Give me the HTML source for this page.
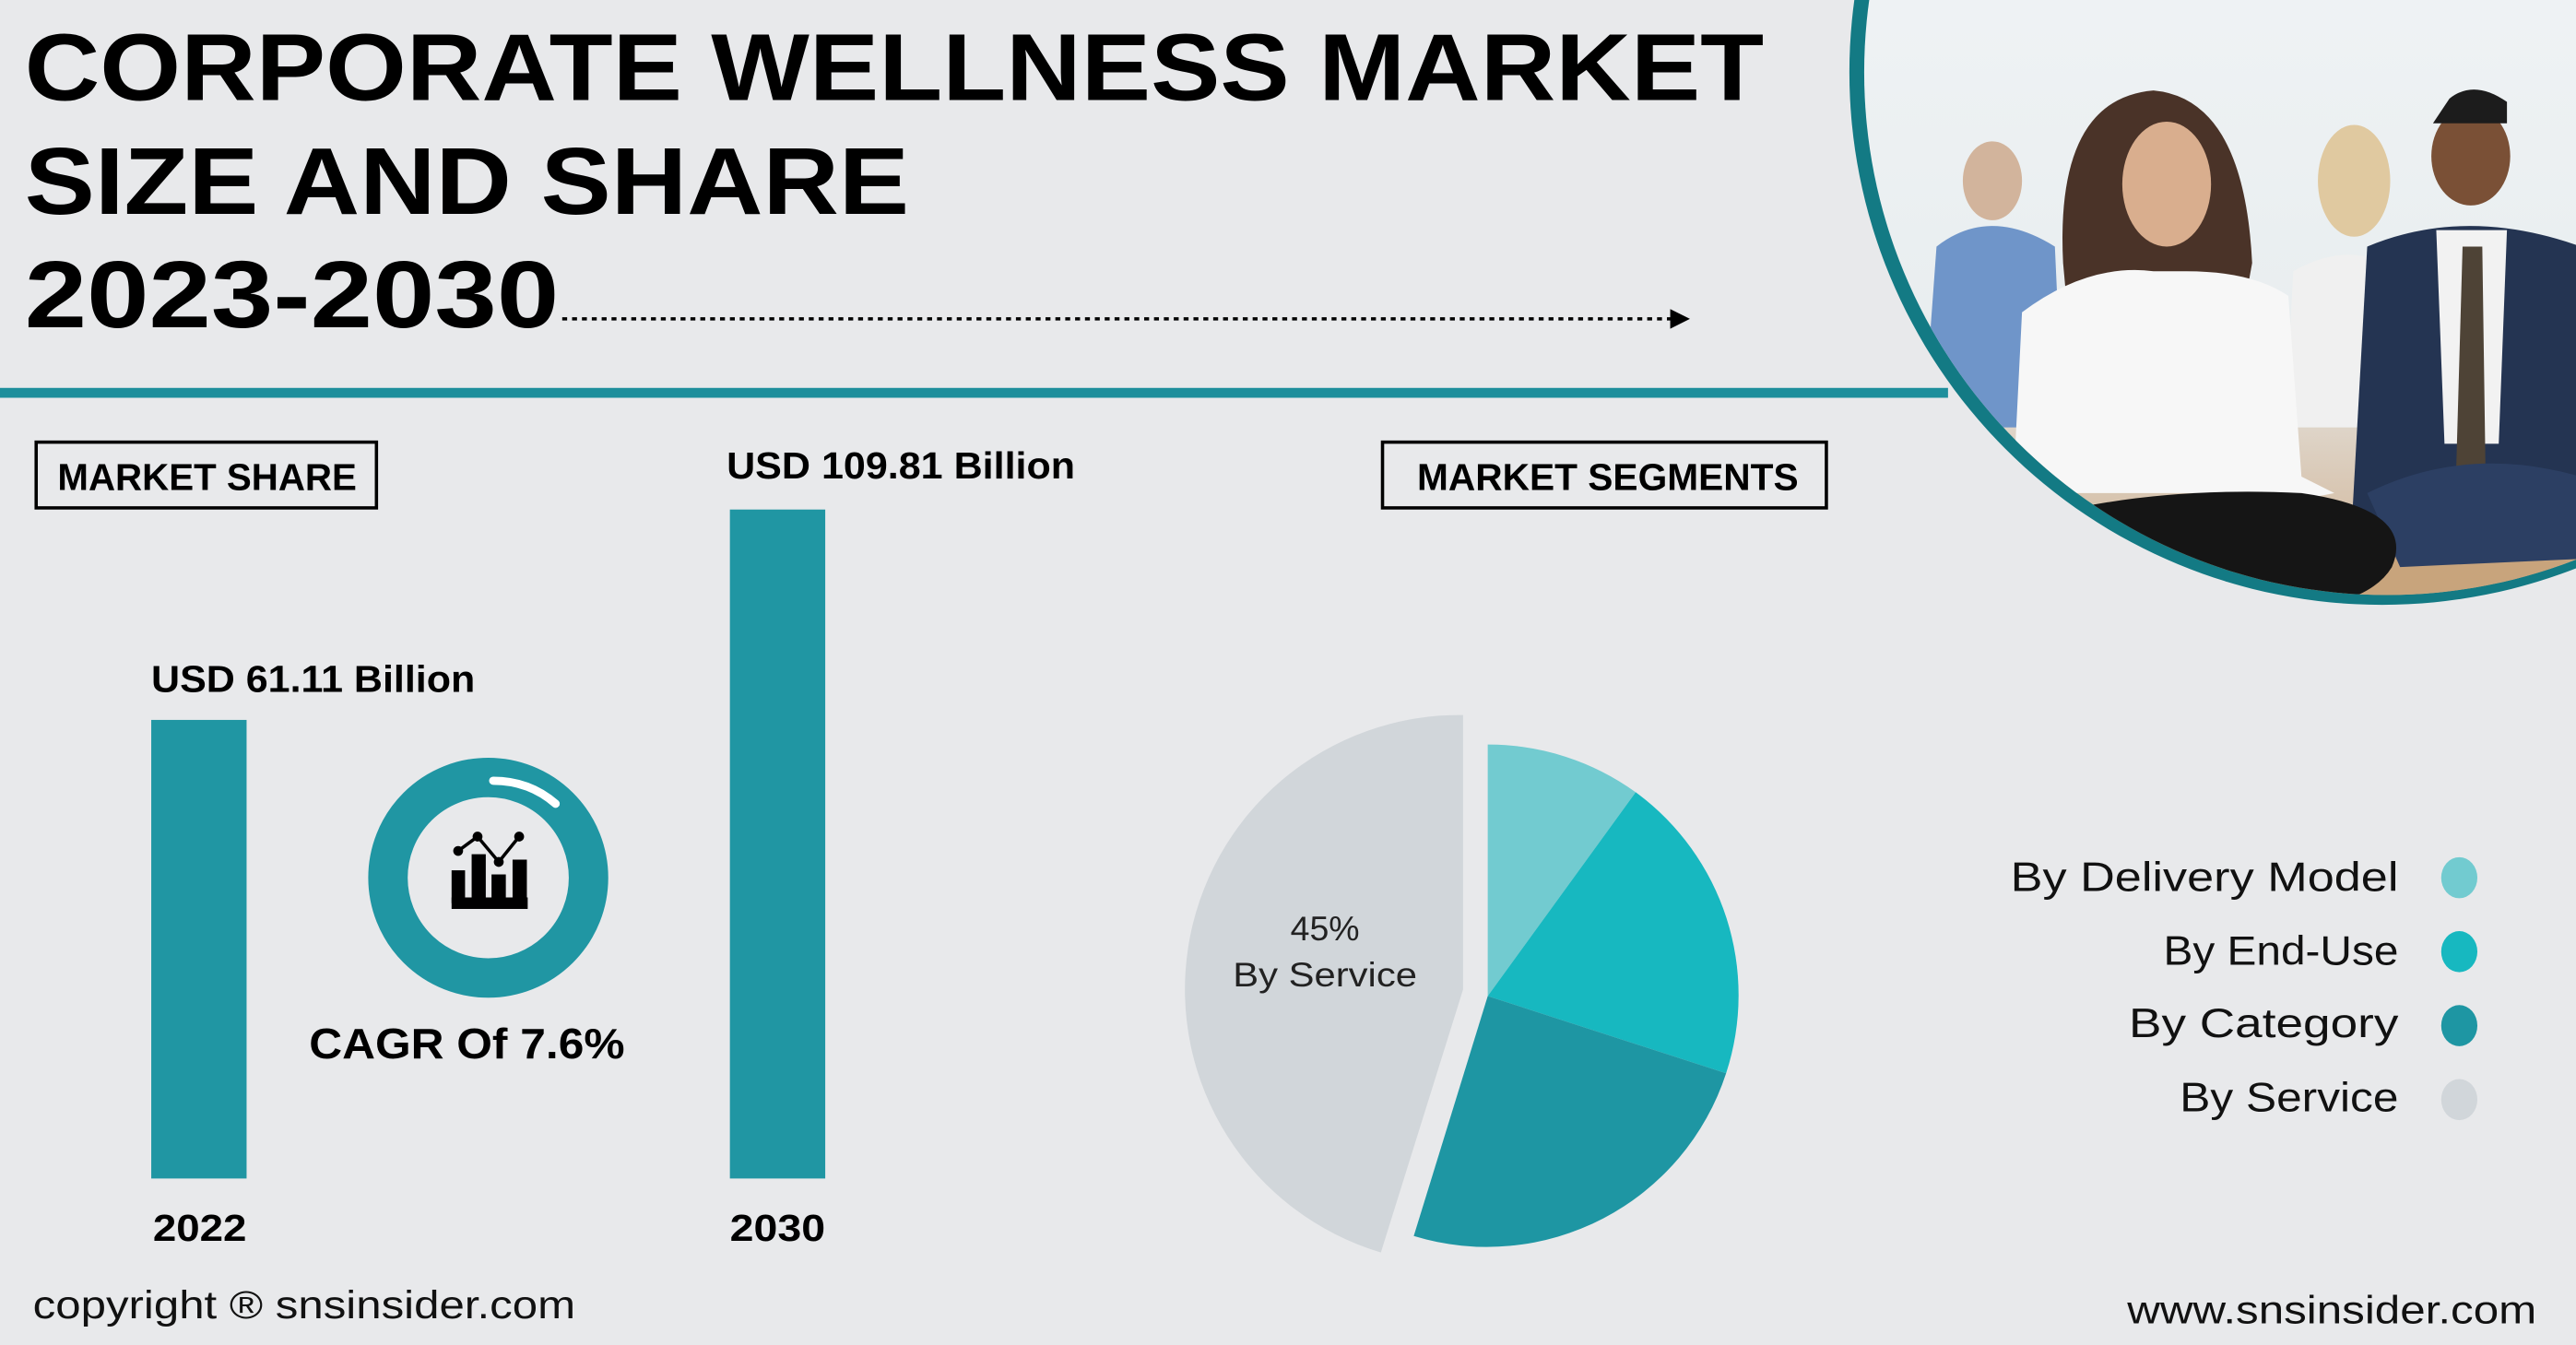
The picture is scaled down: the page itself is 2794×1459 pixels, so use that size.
<!DOCTYPE html>
<html><head><meta charset="utf-8"><style>
html,body{margin:0;padding:0;background:#e8e9eb;}
svg{display:block;}
</style></head><body>
<svg width="2794" height="1459" viewBox="0 0 1567 818.3" preserveAspectRatio="none" xmlns="http://www.w3.org/2000/svg" font-family="Liberation Sans, sans-serif">
<defs>
<clipPath id="cc"><circle cx="1452" cy="44" r="318"/></clipPath>
<linearGradient id="bg" x1="0" y1="0" x2="0" y2="1"><stop offset="0" stop-color="#f7f9fa"/><stop offset="0.7" stop-color="#e9eef0"/><stop offset="1" stop-color="#c9a27a"/></linearGradient>
</defs>
<rect width="1567" height="819" fill="#e8e9eb"/>
<!-- photo -->
<circle cx="1449" cy="44" r="324" fill="#137a84"/>
<g clip-path="url(#cc)">
<rect x="1100" y="-300" width="500" height="700" fill="url(#bg)"/>
<rect x="1140" y="330" width="440" height="60" fill="#c8a47c"/>
<ellipse cx="1212" cy="110" rx="18" ry="24" fill="#d2b49c"/>
<path d="M1178 150 Q1210 125 1250 150 L1255 260 L1170 260 Z" fill="#6f95c9"/>
<ellipse cx="1432" cy="110" rx="22" ry="34" fill="#e0c9a0"/>
<path d="M1395 165 Q1430 145 1460 165 L1465 260 L1390 260 Z" fill="#f0f0f0"/>
<ellipse cx="1503" cy="95" rx="24" ry="30" fill="#7a5036"/>
<path d="M1490 60 Q1505 48 1525 62 L1525 75 L1480 75 Z" fill="#1c1c1c"/>
<path d="M1440 150 Q1500 125 1570 150 L1570 330 L1430 330 Z" fill="#243452"/>
<path d="M1482 140 L1525 140 L1520 270 L1487 270 Z" fill="#f2f2f2"/>
<path d="M1498 150 L1510 150 L1512 290 L1500 295 L1494 290 Z" fill="#4e4336"/>
<path d="M1440 300 Q1500 270 1570 290 L1570 340 L1460 345 Z" fill="#2c3f63"/>
<path d="M1255 160 Q1250 60 1310 55 Q1365 60 1370 160 L1360 215 L1260 215 Z" fill="#4a3328"/>
<ellipse cx="1318" cy="112" rx="27" ry="38" fill="#d9ae8e"/>
<path d="M1230 190 Q1270 160 1310 165 L1330 165 Q1370 165 1392 180 L1400 290 L1420 300 L1395 305 L1380 300 L1255 300 L1225 290 Z" fill="#f7f7f7"/>
<path d="M1220 320 Q1300 295 1400 300 Q1470 310 1455 345 Q1440 370 1380 372 L1250 365 Z" fill="#151515"/>
</g>
<!-- title -->
<g font-weight="bold" fill="#000">
<text x="15" y="61" font-size="58" textLength="1058" lengthAdjust="spacingAndGlyphs">CORPORATE WELLNESS MARKET</text>
<text x="15" y="130" font-size="58" textLength="538" lengthAdjust="spacingAndGlyphs">SIZE AND SHARE</text>
<text x="15" y="199" font-size="58" textLength="325" lengthAdjust="spacingAndGlyphs">2023-2030</text>
</g>
<line x1="342" y1="194" x2="1018" y2="194" stroke="#000" stroke-width="2" stroke-dasharray="3,3"/>
<path d="M1016 188 L1028 194 L1016 200 Z" fill="#000"/>
<rect x="0" y="236" width="1185" height="6" fill="#1e8f9c"/>
<!-- boxes -->
<rect x="22" y="269" width="207" height="40" fill="none" stroke="#000" stroke-width="2"/>
<text x="126" y="298" font-size="23" font-weight="bold" text-anchor="middle" textLength="182" lengthAdjust="spacingAndGlyphs">MARKET SHARE</text>
<rect x="841" y="269" width="270" height="40" fill="none" stroke="#000" stroke-width="2"/>
<text x="978" y="298" font-size="23" font-weight="bold" text-anchor="middle" textLength="232" lengthAdjust="spacingAndGlyphs">MARKET SEGMENTS</text>
<!-- bars -->
<rect x="92" y="438" width="58" height="279" fill="#2096a3"/>
<rect x="444" y="310" width="58" height="407" fill="#2096a3"/>
<g font-weight="bold" font-size="23">
<text x="92" y="421" textLength="197" lengthAdjust="spacingAndGlyphs">USD 61.11 Billion</text>
<text x="442" y="291" textLength="212" lengthAdjust="spacingAndGlyphs">USD 109.81 Billion</text>
<text x="93" y="755" textLength="57" lengthAdjust="spacingAndGlyphs">2022</text>
<text x="444" y="755" textLength="58" lengthAdjust="spacingAndGlyphs">2030</text>
<text x="188" y="644" font-size="26" textLength="192" lengthAdjust="spacingAndGlyphs">CAGR Of 7.6%</text>
</g>
<!-- ring -->
<circle cx="297" cy="534" r="61" fill="none" stroke="#2096a3" stroke-width="24"/>
<path d="M300 475 Q322 475 338 489" fill="none" stroke="#fff" stroke-width="5" stroke-linecap="round"/>
<g fill="#000">
<rect x="274.7" y="546" width="46.3" height="7"/>
<rect x="274.7" y="529.5" width="8.2" height="20"/>
<rect x="286.9" y="519.7" width="8.6" height="30"/>
<rect x="299" y="532" width="8.7" height="18"/>
<rect x="311.8" y="523" width="8.7" height="27"/>
<polyline points="278.7,517.7 290.5,509 303.4,524.4 315.8,509" fill="none" stroke="#000" stroke-width="2"/>
<circle cx="278.7" cy="517.7" r="3"/><circle cx="290.5" cy="509" r="3"/><circle cx="303.4" cy="524.4" r="3"/><circle cx="315.8" cy="509" r="3"/>
</g>
<!-- pie -->
<path d="M905 606 L905 453 A153 153 0 0 1 995 482 Z" fill="#72cbd0"/>
<path d="M905 606 L995 482 A153 153 0 0 1 1050 653 Z" fill="#17b8c0"/>
<path d="M905 606 L1050 653 A153 153 0 0 1 860 752 Z" fill="#1e96a3"/>
<path d="M890 602 L840 762 A167 167 0 0 1 890 435 Z" fill="#d1d6da"/>
<g font-size="21" fill="#222" text-anchor="middle">
<text x="806" y="572">45%</text>
<text x="806" y="600" textLength="112" lengthAdjust="spacingAndGlyphs">By Service</text>
</g>
<!-- legend -->
<g font-size="25" fill="#111" text-anchor="end">
<text x="1459" y="542" textLength="236" lengthAdjust="spacingAndGlyphs">By Delivery Model</text>
<text x="1459" y="587" textLength="143" lengthAdjust="spacingAndGlyphs">By End-Use</text>
<text x="1459" y="631" textLength="164" lengthAdjust="spacingAndGlyphs">By Category</text>
<text x="1459" y="676" textLength="133" lengthAdjust="spacingAndGlyphs">By Service</text>
</g>
<ellipse cx="1496" cy="534" rx="11" ry="12.5" fill="#72cbd0"/>
<ellipse cx="1496" cy="579" rx="11" ry="12.5" fill="#17b8c0"/>
<ellipse cx="1496" cy="624" rx="11" ry="12.5" fill="#1e96a3"/>
<ellipse cx="1496" cy="669" rx="11" ry="12.5" fill="#d1d6da"/>
<!-- footer -->
<text x="20" y="802" font-size="24" fill="#111" textLength="330" lengthAdjust="spacingAndGlyphs">copyright ® snsinsider.com</text>
<text x="1543" y="805" font-size="24" fill="#111" text-anchor="end" textLength="249" lengthAdjust="spacingAndGlyphs">www.snsinsider.com</text>
</svg>
</body></html>
